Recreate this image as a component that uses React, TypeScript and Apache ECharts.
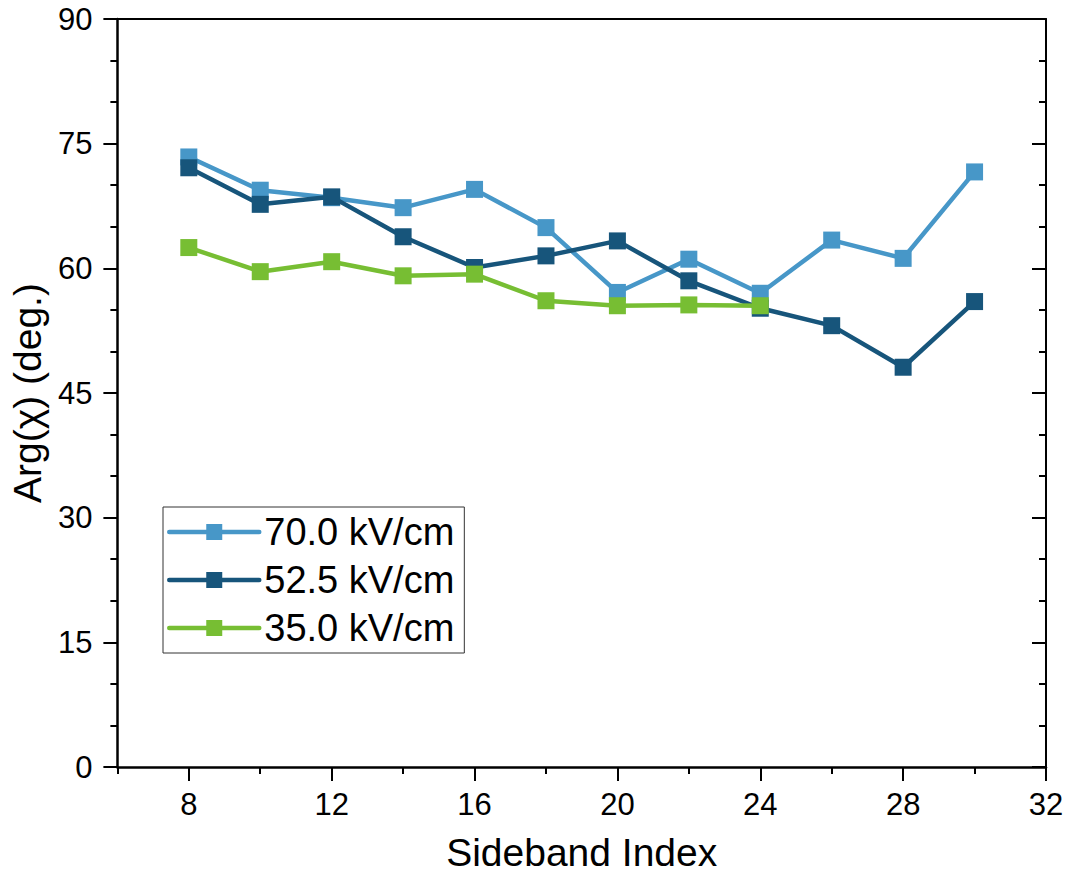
import React, { useEffect, useRef } from "react";
import * as echarts from "echarts";

const sidebandIdx70 = [8, 10, 12, 14, 16, 18, 20, 22, 24, 26, 28, 30];
const arg70 = [73.4, 69.4, 68.5, 67.3, 69.5, 64.9, 57.1, 61.1, 57.0, 63.4, 61.2, 71.6];
const sidebandIdx52 = [8, 10, 12, 14, 16, 18, 20, 22, 24, 26, 28, 30];
const arg52 = [72.1, 67.7, 68.6, 63.8, 60.1, 61.5, 63.3, 58.5, 55.2, 53.1, 48.1, 56.0];
const sidebandIdx35 = [8, 10, 12, 14, 16, 18, 20, 22, 24];
const arg35 = [62.5, 59.6, 60.8, 59.1, 59.3, 56.1, 55.5, 55.6, 55.5];

const seriesNames = ["70.0 kV/cm", "52.5 kV/cm", "35.0 kV/cm"];
const seriesColors = ["#4797C8", "#17557B", "#77BE33"];
const xMajorTicks = [8, 12, 16, 20, 24, 28, 32];
const xMinorTicks = [6, 10, 14, 18, 22, 26, 30];

const FONT = "'Liberation Sans', Arial, sans-serif";

export default function App() {
  const ref = useRef<HTMLDivElement>(null);
  useEffect(() => {
    if (!ref.current) return;
    const chart = echarts.init(ref.current, null, { renderer: "svg" });
    const xs = [sidebandIdx70, sidebandIdx52, sidebandIdx35];
    const ys = [arg70, arg52, arg35];
    const series = seriesNames.map((name, i) => ({
      name,
      type: "line",
      data: xs[i].map((x, j) => [x, ys[i][j]]),
      symbol: "rect",
      symbolSize: 17,
      z: 2 + i,
      lineStyle: { color: seriesColors[i], width: 4.5, cap: "round" },
      itemStyle: { color: seriesColors[i] },
    }));
    chart.setOption({
      animation: false,
      backgroundColor: "#ffffff",
      textStyle: { fontFamily: FONT },
      grid: { left: 117, right: 25, top: 19, bottom: 117, containLabel: false },
      legend: {
        orient: "vertical",
        left: 163,
        top: 507,
        padding: [6, 10, 6, 4],
        itemWidth: 90,
        itemHeight: 20,
        itemGap: 10,
        borderColor: "#333333",
        borderWidth: 1,
        backgroundColor: "#ffffff",
        lineStyle: { width: 4.5, cap: "round" },
        textStyle: { fontSize: 38, color: "#000", fontFamily: FONT },
        data: seriesNames,
      },
      xAxis: [
        {
          type: "value",
          min: 6,
          max: 32,
          position: "bottom",
          name: "Sideband Index",
          nameLocation: "middle",
          nameGap: 66,
          nameTextStyle: { fontSize: 39, color: "#000", fontFamily: FONT },
          splitLine: { show: false },
          axisLine: { show: true, onZero: false, lineStyle: { color: "#000", width: 2.5 } },
          axisTick: { show: true, inside: false, length: 14, customValues: xMajorTicks, lineStyle: { color: "#000", width: 2 } },
          axisLabel: { customValues: xMajorTicks, fontSize: 31, color: "#000", margin: 22, fontFamily: FONT },
        },
        {
          type: "value",
          min: 6,
          max: 32,
          position: "top",
          splitLine: { show: false },
          axisLine: { show: true, onZero: false, lineStyle: { color: "#000", width: 2 } },
          axisTick: { show: false },
          axisLabel: { show: false },
        },
        {
          type: "value",
          min: 6,
          max: 32,
          position: "bottom",
          splitLine: { show: false },
          axisLine: { show: false, onZero: false },
          axisTick: { show: true, inside: false, length: 7, customValues: xMinorTicks, lineStyle: { color: "#000", width: 2 } },
          axisLabel: { show: false },
        },
      ],
      yAxis: [
        {
          type: "value",
          min: 0,
          max: 90,
          interval: 15,
          position: "left",
          name: "Arg(\u03C7) (deg.)",
          nameLocation: "middle",
          nameGap: 68,
          nameTextStyle: { fontSize: 39, color: "#000", fontFamily: FONT },
          splitLine: { show: false },
          axisLine: { show: true, onZero: false, lineStyle: { color: "#000", width: 2.5 } },
          axisTick: { show: true, inside: false, length: 14, lineStyle: { color: "#000", width: 2 } },
          minorTick: { show: true, splitNumber: 3, length: 7, lineStyle: { color: "#000", width: 2 } },
          axisLabel: { fontSize: 31, color: "#000", margin: 25, fontFamily: FONT },
        },
        {
          type: "value",
          min: 0,
          max: 90,
          interval: 15,
          position: "right",
          splitLine: { show: false },
          axisLine: { show: true, onZero: false, lineStyle: { color: "#000", width: 2 } },
          axisTick: { show: true, inside: true, length: 14, lineStyle: { color: "#000", width: 2 } },
          minorTick: { show: true, splitNumber: 3, length: 7, lineStyle: { color: "#000", width: 2 } },
          axisLabel: { show: false },
        },
      ],
      series,
    });
    return () => chart.dispose();
  }, []);
  return <div ref={ref} style={{ width: 1071, height: 884, margin: -8 }} />;
}
